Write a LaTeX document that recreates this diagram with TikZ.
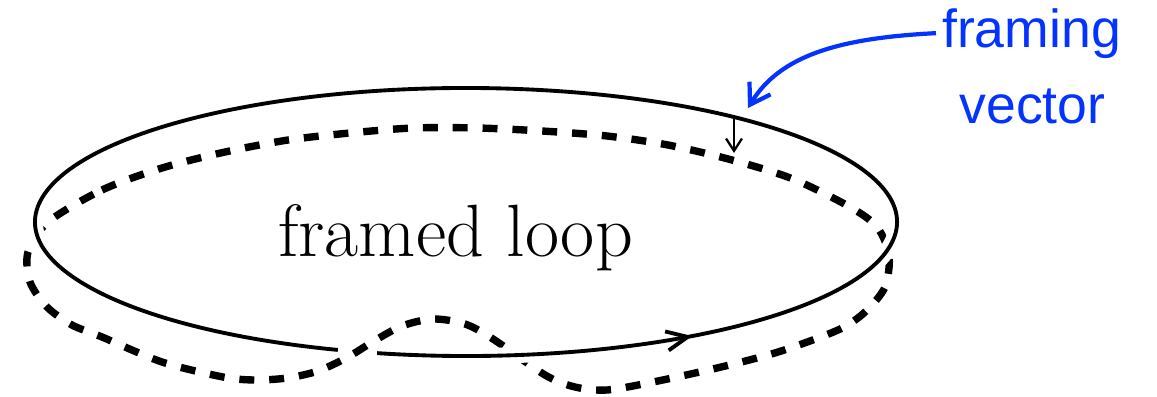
\documentclass[tikz,border=0pt]{standalone}
\usepackage{fontspec}
\usetikzlibrary{arrows.meta,decorations.markings}
\newfontfamily\labelfont{Liberation Sans}
\definecolor{framingblue}{RGB}{4,51,255}

\begin{document}
\begin{tikzpicture}[
  x=0.02cm, y=-0.02cm,
  loopline/.style={line width=2.2pt, preaction={draw=white, line width=9pt}},
  framedline/.style={line width=4.2pt, dash pattern=on 8.5pt off 8.5pt},
  orient/.style={postaction={decorate}, decoration={markings,
    mark=at position 0.17 with {\arrow{Straight Barb[length=12pt,width=11pt]}}}},
  vectorarrow/.style={line width=1.3pt, -{Straight Barb[length=7pt,width=9pt]}},
  pointer/.style={framingblue, line width=2.4pt, -{Straight Barb[length=11pt,width=14pt]}},
  tag/.style={text=framingblue, font=\labelfont\fontsize{30.5}{36}\selectfont, anchor=base}
]
\useasboundingbox (0,0) rectangle (1157,396);
\draw[framedline] plot[smooth cycle] coordinates {
  (48,222) (102,190) (162,168) (225,152) (288,140) (350,133) (413,128)
  (478,128) (542,131) (607,136) (668,145) (732,160) (793,179) (850,207)
  (877,227) (889,255) (885,287) (865,312) (838,330) (778,352) (717,368)
  (653,382) (607,390) (575,387) (545,375) (493,339) (465,324) (433,319)
  (402,326) (374,341) (348,357) (318,371) (287,378) (255,380) (223,377)
  (162,362) (102,337) (72,325) (47,307) (30,282) (28,252)};
\draw[loopline, orient] ([shift={(466,222)}]461.9:431 and 134)
  arc[start angle=461.9, end angle=107.3, x radius=431, y radius=134];
\node[font=\fontsize{42.2}{48}\selectfont, anchor=base] (looplabel) at (455.5,256) {framed loop};
\coordinate (vbase) at (734,119);
\coordinate (vtip) at (734,153);
\coordinate (pointtip) at (748,108);
\draw[vectorarrow] (vbase) -- (vtip);
\node[tag] (framing) at (1031.5,47) {framing};
\node[tag] (vector) at (1032.5,123) {vector};
\draw[pointer] (framing.west) .. controls (840,38) and (780,55) .. (pointtip);
\end{tikzpicture}
\end{document}
